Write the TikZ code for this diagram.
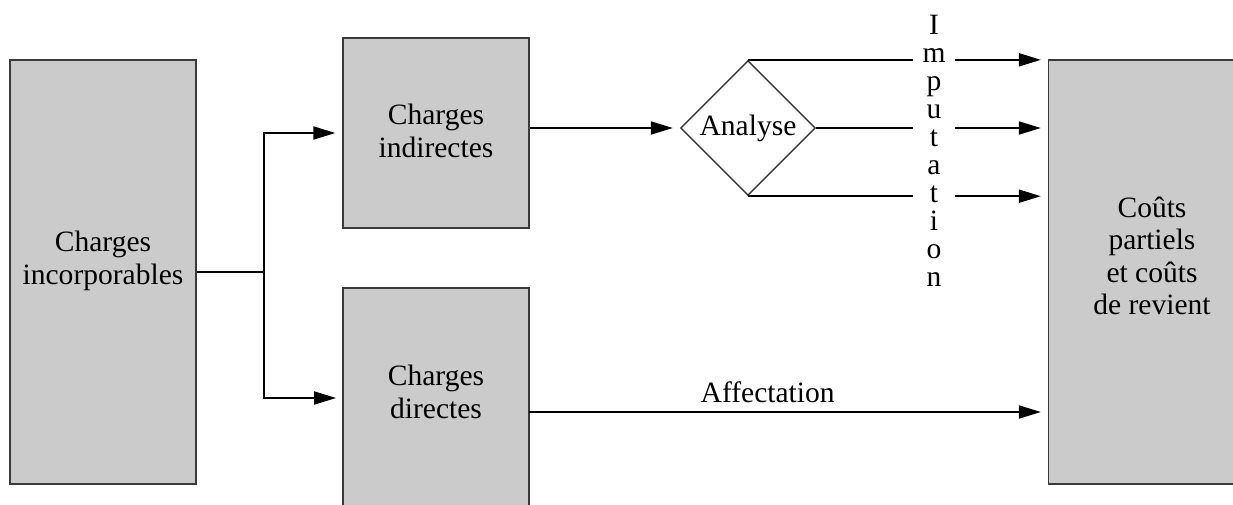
\documentclass[tikz,border=0pt]{standalone}
\usepackage{fontspec}
\setmainfont{Liberation Serif}
\usetikzlibrary{shapes.geometric,arrows.meta}
\definecolor{boxfill}{HTML}{CBCBCB}
\definecolor{boxline}{HTML}{3A3A3A}
\begin{document}
\begin{tikzpicture}[x=0.02cm,y=-0.02cm,
  every node/.style={font=\fontsize{16.8}{18.4}\selectfont},
  block/.style={draw=boxline,fill=boxfill,line width=0.8pt,inner sep=0pt},
  lbl/.style={align=center,inner sep=0pt},
  arr/.style={line width=0.8pt,-{Triangle[length=12.5pt,width=7.5pt]},shorten >=4pt},
  link/.style={line width=0.8pt}]
\useasboundingbox (0,0) rectangle (1233,504);
\clip (0,0) rectangle (1233,504);

% boxes
\node[block,minimum width=3.72cm,minimum height=8.48cm] (inc) at (103,272) {};
\node[lbl] (incT) at (103,261) {Charges\\incorporables};

\node[block,minimum width=3.72cm,minimum height=3.8cm] (ind) at (436,133) {};
\node[lbl] (indT) at (436,131) {Charges\\indirectes};

\node[block,minimum width=3.72cm,minimum height=4.4cm] (dir) at (436,398) {};
\node[lbl] (dirT) at (436,392) {Charges\\directes};

\node[block,minimum width=4.1cm,minimum height=8.48cm] (cout) at (1151,272) {};
\node[lbl] (coutT) at (1152,256) {Coûts\\partiels\\et coûts\\de revient};

\node[draw=boxline,line width=0.8pt,shape=diamond,aspect=1,minimum width=2.7cm,minimum height=2.7cm,inner sep=0pt] (ana) at (748,128) {Analyse};

% connectors
\coordinate (br) at (264,272);
\coordinate (dirIn) at (343,398);
\coordinate (dirOut) at (529,412);
\draw[link] (inc.east |- br) -- (br);
\draw[arr] (br) |- (ind.west);
\draw[arr] (br) |- (dirIn);
\draw[arr] (ind.east |- ana.west) -- (ana.west);
\draw[arr] (ana.north) -- (ana.north -| cout.west);
\draw[arr] (ana.east) -- (ana.east -| cout.west);
\draw[arr] (ana.south) -- (ana.south -| cout.west);
\draw[arr] (dirOut) -- (dirOut -| cout.west)
  node[pos=0.46,above=5pt,inner sep=0pt] (aff) {Affectation};

% vertical label over the three imputation arrows
\node[fill=white,inner xsep=0pt,inner ysep=2pt,minimum width=0.84cm,align=center,
  font=\fontsize{16.8}{15.9}\selectfont] (imp) at (934,151)
  {I\\m\\p\\u\\t\\a\\t\\i\\o\\n};
\end{tikzpicture}
\end{document}
